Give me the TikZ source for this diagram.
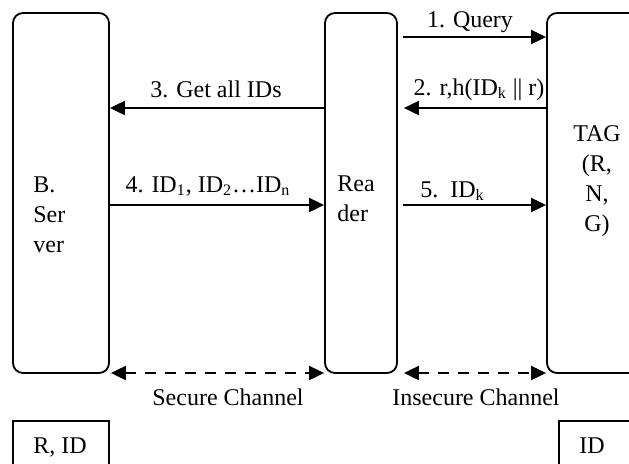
\documentclass[tikz,border=0pt]{standalone}
\usepackage{fontspec}
\setmainfont{Liberation Serif}
\usetikzlibrary{calc}
\usetikzlibrary{arrows.meta}
\tikzset{
	party/.style={draw,line width=0.9pt,rounded corners=5pt,inner sep=0pt},
	store/.style={draw,line width=0.9pt,inner sep=0pt},
	msg/.style={line width=1pt,-{Triangle[length=7.5pt,width=7pt]}},
	chan/.style={line width=1pt,dash pattern=on 5.5pt off 4.5pt,{Triangle[length=7.5pt,width=7pt]}-{Triangle[length=7.5pt,width=7pt]}},
	lbl/.style={inner sep=0pt,anchor=base,font=\fontsize{12}{15}\selectfont},
}

\begin{document}
\begin{tikzpicture}[x=0.5pt,y=-0.5pt]
		\clip (0,0) rectangle (629,463);
		% the three parties
		\node[party,minimum width=48pt,minimum height=180pt] (server) at (61,193) {};
		\node[party,minimum width=36pt,minimum height=180pt] (reader) at (361,193) {};
		\node[party,minimum width=64pt,minimum height=180pt] (tag) at (611,193) {};
		\node[lbl,anchor=base west,align=left] (srvname) at (33,252) {B.\\Ser\\ver};
		\node[lbl,anchor=base west,align=left] (rdrname) at (337,221) {Rea\\der};
		\node[lbl,align=center] (tagname) at (597,231) {TAG\\(R,\\N,\\G)};
		% stored data
		\node[store,minimum width=48pt,minimum height=30pt] (srvdata) at (61,451) {};
		\node[store,minimum width=60pt,minimum height=30pt] (tagdata) at (619,451) {};
		\node[lbl] (srvkeys) at (60,453) {R, ID};
		\node[lbl] (tagkey) at (592,453) {ID};
		% messages
		\draw[msg] ($(reader.east|-0,37)+(5,0)$) -- (tag.west|-0,37);
		\draw[msg] (tag.west|-0,108) -- ($(reader.east|-0,108)+(6,0)$);
		\draw[msg] (reader.west|-0,108) -- (server.east|-0,108);
		\draw[msg] (server.east|-0,205) -- (reader.west|-0,205);
		\draw[msg] ($(reader.east|-0,205)+(5,0)$) -- (tag.west|-0,205);
		\node[lbl] (m1) at (470,27) {1. Query};
		\node[lbl] (m2) at (479,95) {2. r,h(ID\textsubscript{k} || r)};
		\node[lbl] (m3) at (216,97) {3. Get all IDs};
		\node[lbl] (m4) at (208,192) {4. ID\textsubscript{1}, ID\textsubscript{2}\ldots ID\textsubscript{n}};
		\node[lbl,anchor=base west] (m5) at (420,197) {5.~~ID\textsubscript{k}};
		% channels
		\draw[chan] ($(server.east|-0,373)+(1,0)$) -- (reader.west|-0,373);
		\draw[chan] ($(reader.east|-0,373)+(6,0)$) -- (tag.west|-0,373);
		\node[lbl] (sec) at (228,405) {Secure Channel};
		\node[lbl] (insec) at (476,405) {Insecure Channel};
	\end{tikzpicture}
\end{document}
